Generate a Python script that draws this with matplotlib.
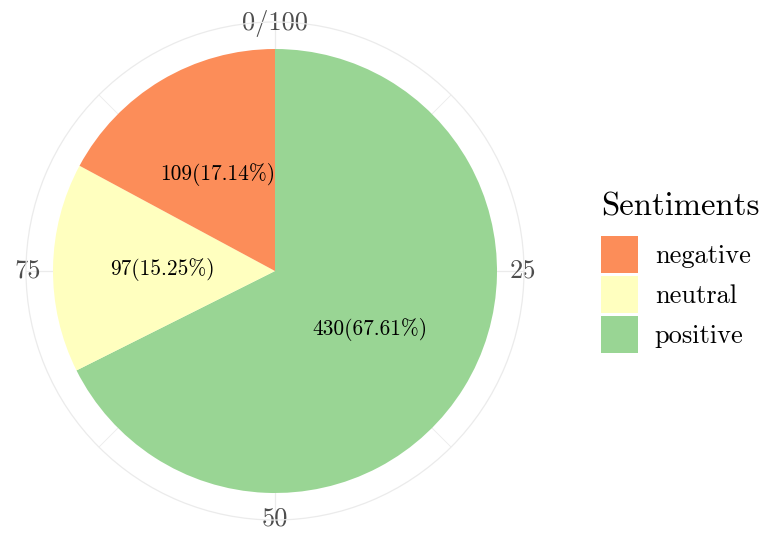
import matplotlib
matplotlib.use("Agg")
import matplotlib.pyplot as plt
import numpy as np
from matplotlib.patches import Patch

plt.rcParams['font.family'] = ['cmr10', 'DejaVu Sans']
plt.rcParams['axes.unicode_minus'] = False

# Data
sentiments = ['negative', 'neutral', 'positive']
counts = [109, 97, 430]
colors = ['#FC8D59', '#FFFFBF', '#99D594']
tick_pos = [0, 25, 50, 75]
tick_labels = ['0/100', '25', '50', '75']

total = sum(counts)
fracs = np.array(counts) / total

# stacked clockwise from the top: positive, neutral, negative
order = [2, 1, 0]
starts = []
acc = 0.0
for i in order:
    starts.append(acc)
    acc += fracs[i]

fig = plt.figure(figsize=(7.61, 5.33), dpi=100)
ax = fig.add_axes([26 / 761, 13 / 533, 498 / 761, 498 / 533], projection='polar')
ax.set_theta_zero_location('N')
ax.set_theta_direction(-1)
ax.set_axisbelow(True)

for s, i in zip(starts, order):
    ax.bar(s * 2 * np.pi, 1.0, width=fracs[i] * 2 * np.pi, bottom=0,
           align='edge', color=colors[i], edgecolor='none', zorder=2)
    mid = (s + fracs[i] / 2) * 2 * np.pi
    ax.text(mid, 0.505, f"{counts[i]}({fracs[i] * 100:.2f}%)",
            ha='center', va='center', fontsize=15.4, color='black', zorder=3)

ax.set_ylim(0, 249 / 222)
ax.set_yticks([])
ax.set_xticks(np.array(tick_pos) / 100 * 2 * np.pi)
ax.set_xticklabels(tick_labels)
ax.set_xticks(np.arange(12.5, 100, 25) / 100 * 2 * np.pi, minor=True)
ax.grid(True, which='major', axis='x', color='#EBEBEB', lw=0.9)
ax.grid(True, which='minor', axis='x', color='#EBEBEB', lw=0.6)
ax.tick_params(axis='x', which='both', length=0, pad=-8, labelsize=19, labelcolor='#4D4D4D')
ax.spines['polar'].set_color('#EBEBEB')
ax.spines['polar'].set_linewidth(0.9)

handles = [Patch(facecolor=c, edgecolor='none') for c in colors]
leg = fig.legend(handles, sentiments, title='Sentiments', loc='upper left',
                 bbox_to_anchor=(601 / 761, 1 - 192 / 533), frameon=False,
                 fontsize=19, title_fontsize=23.5, handlelength=1.4,
                 handleheight=1.78, labelspacing=0.11, handletextpad=0.64,
                 borderpad=0, borderaxespad=0, alignment='left')
leg._legend_box.sep = 11  # gap between title and keys

fig.savefig('out.png', dpi=100)
